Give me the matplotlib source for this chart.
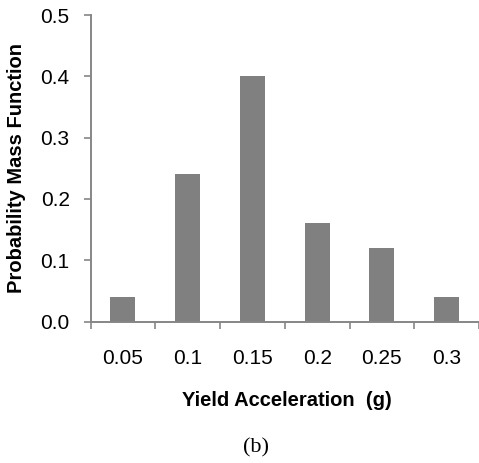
import numpy as np
import matplotlib
matplotlib.use("Agg")
import matplotlib.pyplot as plt

# Yield acceleration bins and their probability mass
categories = ["0.05", "0.1", "0.15", "0.2", "0.25", "0.3"]
pmf = [0.04, 0.24, 0.40, 0.16, 0.12, 0.04]
y_ticks = [0.0, 0.1, 0.2, 0.3, 0.4, 0.5]

plt.rcParams['font.family'] = ['Liberation Sans', 'DejaVu Sans']

fig = plt.figure(figsize=(4.79, 4.63), dpi=100)
ax = fig.add_axes([0.189, 0.3056, 0.811, 0.662])

x = np.arange(len(categories))
ax.bar(x, pmf, width=0.385, color='#808080', zorder=2)

ax.set_xlim(-0.5, len(categories) - 0.5)
ax.set_ylim(0, 0.5)
ax.set_yticks(y_ticks)
ax.set_yticklabels(["%.1f" % v for v in y_ticks], fontsize=15)

# category labels centred, tick marks between categories
ax.set_xticks(x)
ax.set_xticklabels(categories, fontsize=15)
ax.tick_params(axis='x', which='major', length=0, pad=20)
ax.set_xticks(np.arange(-0.5, len(categories), 1.0), minor=True)
ax.tick_params(axis='x', which='minor', length=5, color='#868686', width=1.2, direction='out')
ax.tick_params(axis='y', length=5, color='#868686', width=1.2, pad=10)

for side in ['top', 'right']:
    ax.spines[side].set_visible(False)
for side in ['left', 'bottom']:
    ax.spines[side].set_color('#868686')
    ax.spines[side].set_linewidth(1.4)

ax.set_ylabel("Probability Mass Function", fontsize=14.5, fontweight='bold')
ax.yaxis.set_label_coords(-0.165, 0.5)
ax.set_xlabel("Yield Acceleration  (g)", fontsize=14.5, fontweight='bold')
ax.xaxis.set_label_coords(0.506, -0.228)

fig.text(256 / 479, 1 - 448 / 463, "(b)", fontsize=16, family='Liberation Serif',
         ha='center', va='center')

fig.savefig("out.png", dpi=100)
